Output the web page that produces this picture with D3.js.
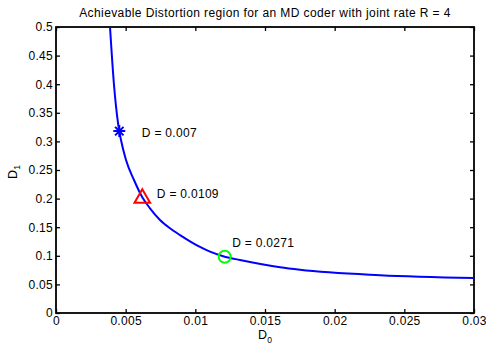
<!DOCTYPE html>
<html>
<head>
<meta charset="utf-8">
<script src="https://cdn.jsdelivr.net/npm/d3@7"></script>
<style>
  body { margin: 0; background: #fff; }
  text { font-family: "Liberation Sans", Arial, sans-serif; }
</style>
</head>
<body>
<svg id="chart" width="486" height="347"></svg>
<script>

// curve (D0, D1)
const curveD0 = [0.003876, 0.004163, 0.004471, 0.004665, 0.005024, 0.005598, 0.006194, 0.006746, 0.007464, 0.008182, 0.008900, 0.009617, 0.010335, 0.011053, 0.012108, 0.013206, 0.01608, 0.01751, 0.02325, 0.03]
const curveD1 = [0.5, 0.3986, 0.3287, 0.3025, 0.2675, 0.2325, 0.2023, 0.1830, 0.1626, 0.1481, 0.1362, 0.1254, 0.1155, 0.1072, 0.0984, 0.0927, 0.0799, 0.0755, 0.0660, 0.0612]

// marked points
const markLabels = ['D = 0.007', 'D = 0.0109', 'D = 0.0271']
const markD0 = [0.004543, 0.006194, 0.012108]
const markD1 = [0.318, 0.2023, 0.0984]
const markShapes = ['star', 'triangle', 'circle']
const markColors = ['#0000ff', '#ff0000', '#00ff00']

const xTicks = [0, 0.005, 0.01, 0.015, 0.02, 0.025, 0.03]
const yTicks = [0, 0.05, 0.1, 0.15, 0.2, 0.25, 0.3, 0.35, 0.4, 0.45, 0.5]

const title = 'Achievable Distortion region for an MD coder with joint rate R = 4'

const svg = d3.select('#chart')
const mLeft = 56, mRight = 474, mTop = 27, mBottom = 313

const x = d3.scaleLinear().domain([0, 0.03]).range([mLeft, mRight])
const y = d3.scaleLinear().domain([0, 0.5]).range([mBottom, mTop])

// axes, MATLAB style: ticks inward on all four sides
const tickLen = 4
const gx = svg.append('g').attr('transform', `translate(0,${mBottom})`)
    .call(d3.axisBottom(x).tickValues(xTicks).tickSizeInner(-tickLen).tickSizeOuter(0).tickPadding(6).tickFormat(d => String(d)))
const gxt = svg.append('g').attr('transform', `translate(0,${mTop})`)
    .call(d3.axisTop(x).tickValues(xTicks).tickSizeInner(-tickLen).tickSizeOuter(0).tickFormat(''))
const gy = svg.append('g').attr('transform', `translate(${mLeft},0)`)
    .call(d3.axisLeft(y).tickValues(yTicks).tickSizeInner(-tickLen).tickSizeOuter(0).tickPadding(3).tickFormat(d => String(d)))
const gyr = svg.append('g').attr('transform', `translate(${mRight},0)`)
    .call(d3.axisRight(y).tickValues(yTicks).tickSizeInner(-tickLen).tickSizeOuter(0).tickFormat(''))

for (const g of [gx, gxt, gy, gyr]) {
    g.select('.domain').remove()
    g.selectAll('line').attr('stroke', '#000').attr('stroke-width', 1.3)
    g.selectAll('text').attr('font-size', 12).attr('fill', '#000')
        .attr('letter-spacing', 0.3)
        .style('font-family', '"Liberation Sans", Arial, sans-serif')
}
gx.selectAll('text').attr('dy', '0.5em')

svg.append('rect')
    .attr('x', mLeft).attr('y', mTop)
    .attr('width', mRight - mLeft).attr('height', mBottom - mTop)
    .attr('fill', 'none').attr('stroke', '#000').attr('stroke-width', 1.8)

// curve
const pts = curveD0.map((d, i) => [d, curveD1[i]])
const line = d3.line().x(d => x(d[0])).y(d => y(d[1])).curve(d3.curveMonotoneX)
svg.append('path')
    .attr('d', line(pts))
    .attr('fill', 'none')
    .attr('stroke', '#0000ff')
    .attr('stroke-width', 2)

// matlab '*' marker: plus and cross together
const star8 = {
    draw (ctx, size) {
        const r = Math.sqrt(size) / 2
        const k = r * Math.SQRT1_2
        ctx.moveTo(-r, 0); ctx.lineTo(r, 0)
        ctx.moveTo(0, -r); ctx.lineTo(0, r)
        ctx.moveTo(-k, -k); ctx.lineTo(k, k)
        ctx.moveTo(-k, k); ctx.lineTo(k, -k)
    }
}

// markers
const symbolTypes = { star: star8, triangle: d3.symbolTriangle2, circle: d3.symbolCircle }
const symbolSizes = { star: 144, triangle: 175, circle: 115 }
markD0.forEach((d, i) => {
    const s = markShapes[i]
    svg.append('path')
        .attr('d', d3.symbol().type(symbolTypes[s]).size(symbolSizes[s])())
        .attr('transform', `translate(${x(d)},${y(markD1[i]) + (s === 'triangle' ? 1 : 0)})`)
        .attr('fill', 'none')
        .attr('stroke', markColors[i])
        .attr('stroke-width', 2)
})

// labels next to markers
const labelDx = [22.5, 14.5, 7.5]
const labelDy = [5.5, 1, -10]
markLabels.forEach((t, i) => {
    svg.append('text')
        .attr('x', x(markD0[i]) + labelDx[i])
        .attr('y', y(markD1[i]) + labelDy[i])
        .attr('font-size', 12)
        .attr('letter-spacing', 0.3)
        .text(t)
})

// title
svg.append('text')
    .attr('x', (mLeft + mRight) / 2).attr('y', 17)
    .attr('text-anchor', 'middle')
    .attr('font-size', 12)
    .attr('letter-spacing', 0.4)
    .text(title)

// axis labels with subscripts
const xl = svg.append('text')
    .attr('x', (mLeft + mRight) / 2).attr('y', 339)
    .attr('text-anchor', 'middle')
    .attr('font-size', 12.5)
xl.append('tspan').text('D')
xl.append('tspan').attr('font-size', 8.5).attr('dy', 4).text('0')

const yl = svg.append('text')
    .attr('transform', `translate(17,172) rotate(-90)`)
    .attr('text-anchor', 'middle')
    .attr('font-size', 12.5)
yl.append('tspan').text('D')
yl.append('tspan').attr('font-size', 8.5).attr('dy', 3).text('1')

</script>
</body>
</html>
